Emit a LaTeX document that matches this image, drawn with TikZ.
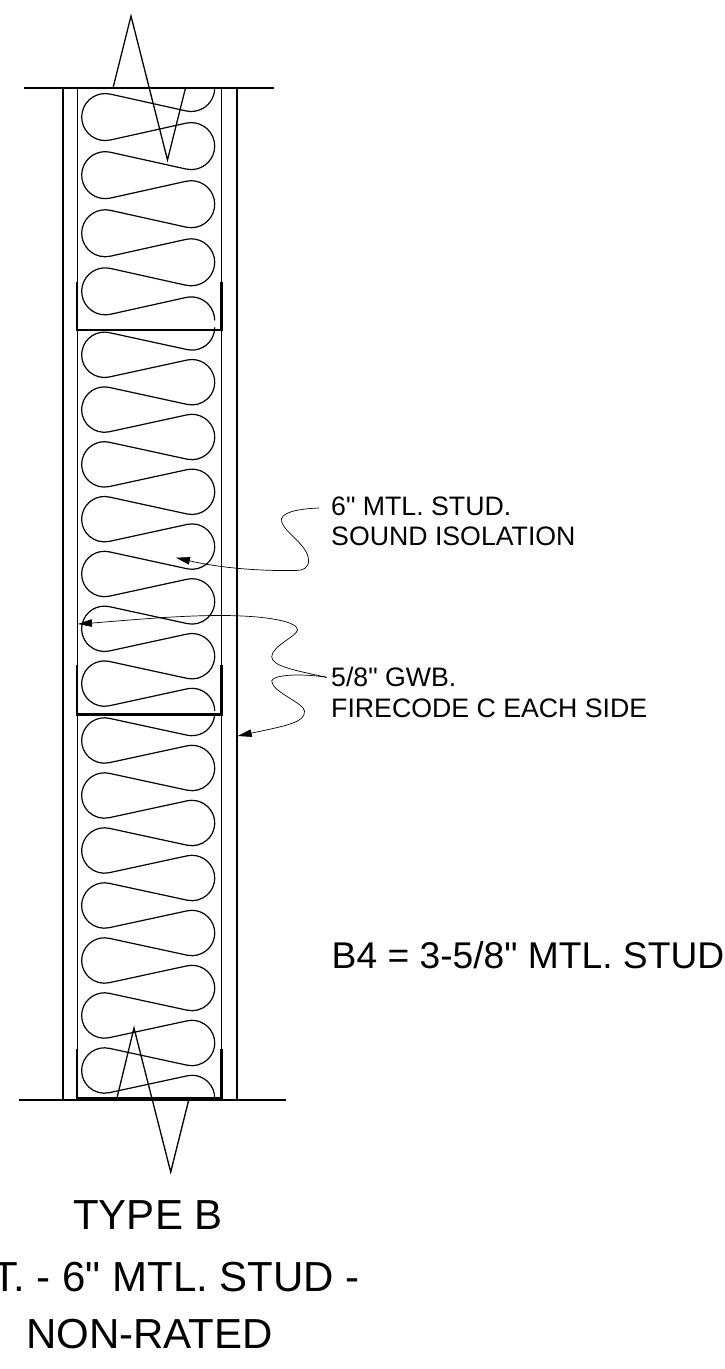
\documentclass[tikz,border=0pt]{standalone}
\usepackage{fontspec}
\newfontfamily\arialfont{Liberation Sans}
\usetikzlibrary{arrows.meta}
\newcommand\insul[4]{% first right centre, period, periods, radius
 \pgfmathsetmacro\rr{#4}
 \pgfmathsetmacro\xL{81.7+#4}
 \pgfmathsetmacro\xR{214.7-#4}
 \pgfmathsetmacro\tht{asin(2*\rr/sqrt((\xR-\xL)^2+(#2/2)^2))-atan((#2/2)/(\xR-\xL))}
 \pgfmathtruncatemacro\nm{#3-1}
 \draw[batt] (\xR+\rr,#1) arc[start angle=0,end angle=90+\tht,radius=\rr]
 \foreach \i in {1,...,\nm}{
   -- ({\xL+\rr*sin(\tht)},{#1+(\i-.5)*#2-\rr*cos(\tht)})
   arc[start angle=270+\tht,end angle=90-\tht,radius=\rr]
   -- ({\xR-\rr*sin(\tht)},{#1+\i*#2-\rr*cos(\tht)})
   arc[start angle=-90-\tht,end angle=90+\tht,radius=\rr]
 }
   -- ({\xL+\rr*sin(\tht)},{#1+(#3-.5)*#2-\rr*cos(\tht)})
   arc[start angle=270+\tht,end angle=90-\tht,radius=\rr]
   -- ({\xR-\rr*sin(\tht)},{#1+#3*#2-\rr*cos(\tht)})
   arc[start angle=-90-\tht,end angle=0,radius=\rr];
}
\tikzset{
 batt/.style={line width=1.2pt,black},
 wallline/.style={line width=1.6pt,black},
 innerline/.style={line width=1pt,black},
 floorline/.style={line width=1.2pt,black},
 breakline/.style={line width=1.3pt,black,line join=miter},
 track/.style={line width=2.4pt,black,line join=miter},
 leader/.style={line width=0.7pt,black,-{Triangle[length=14pt,width=7.5pt]}},
 note/.style={inner sep=0pt,anchor=north west,align=left,font=\arialfont\fontsize{26.7}{30.5}\selectfont},
 stud/.style={inner sep=0pt,anchor=base west,font=\arialfont\fontsize{37.2}{40}\selectfont},
 title/.style={inner sep=0pt,anchor=base,font=\arialfont\fontsize{42}{46}\selectfont},
}
\begin{document}
\begin{tikzpicture}[x=1pt,y=1pt,yscale=-1]
\useasboundingbox (0,0) rectangle (725,1369);
\clip (0,0) rectangle (725,1369);
\fill[white] (0,0) rectangle (725,1369);
\insul{88}{58.1}{4}{23.5}
\insul{327.4}{54.8}{7}{22.7}
\insul{713}{55}{7}{22.7}
\draw[wallline] (63,88) -- (63,1100);
\draw[wallline] (237,88) -- (237,1100);
\draw[innerline] (77.7,88) -- (77.7,1100);
\draw[innerline] (221.7,88) -- (221.7,1100);
\draw[floorline] (24,88) -- (274,88);
\draw[floorline] (19,1100) -- (286,1100);
\draw[track] (77,282) -- (77,330) -- (221.3,330) -- (221.3,282);
\draw[track] (77,665) -- (77,714.3) -- (221.3,714.3) -- (221.3,665);
\draw[track] (77,1049) -- (77,1098.3) -- (221.3,1098.3) -- (221.3,1049);
\draw[breakline] (113,88) -- (131,16) -- (167.5,160) -- (185.5,88);
\draw[breakline] (116.7,1099) -- (134,1028) -- (170.7,1172) -- (188.7,1100);
\coordinate (s1) at (319,508);
\coordinate (t1) at (176,557.7);
\coordinate (s2) at (326.7,677.3);
\coordinate (t2) at (78,624);
\coordinate (t3) at (237.7,736);
\draw[leader] (s1) .. controls (295,509) and (279,513) .. (281.7,522) .. controls (285,533) and (308,545) .. (308.5,560) .. controls (309,568) and (303,570.5) .. (296,570.5) .. controls (265,571) and (225,569) .. (t1);
\draw[leader] (s2) .. controls (293,670) and (272,666) .. (271.7,656.7) .. controls (272,646) and (297,636) .. (297.5,630) .. controls (298,622) and (270,616) .. (225,615.5) .. controls (180,615) and (120,621) .. (t2);
\draw[leader] (s2) .. controls (300,673) and (272,675) .. (271.7,681) .. controls (272,692) and (304,703) .. (304.5,711) .. controls (305,722) and (290,725) .. (t3);
\node[note] (n1) at (331,496.5) {6" MTL. STUD.\\SOUND ISOLATION};
\node[note] (n2) at (331,667) {5/8" GWB.\\FIRECODE C EACH SIDE};
\node[stud] (n3) at (331.5,968.7) {B4 = 3-5/8" MTL. STUD};
\node[title] (ta) at (148,1229) {TYPE B};
\node[title,anchor=base east] (tb) at (360,1291.7) {T. - 6" MTL. STUD -};
\node[title] (tc) at (149.5,1348.3) {NON-RATED};
\end{tikzpicture}
\end{document}
